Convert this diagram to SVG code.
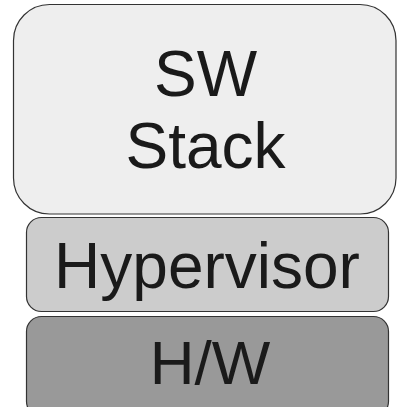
<svg xmlns="http://www.w3.org/2000/svg" width="397" height="407" viewBox="0 0 397 407">
  <style>
    .layer { stroke: #333333; stroke-width: 1.2; }
    .label { font-family: "Liberation Sans", Arial, sans-serif; font-size: 64px; fill: #1a1a1a; text-anchor: middle; }
  </style>
  <rect width="397" height="407" fill="#ffffff"/>
  <g id="sw-stack">
    <rect class="layer" x="13.5" y="4.5" width="382.5" height="209.5" rx="36" ry="36" fill="#eeeeee"/>
    <text class="label" x="205.5" y="96">SW</text>
    <text class="label" x="205.5" y="168">Stack</text>
  </g>
  <g id="hypervisor">
    <rect class="layer" x="26.5" y="217.5" width="362" height="94" rx="15" ry="15" fill="#cccccc"/>
    <text class="label" x="207" y="288">Hypervisor</text>
  </g>
  <g id="hardware">
    <rect class="layer" x="26.5" y="316.5" width="362" height="100" rx="15" ry="15" fill="#999999"/>
    <text class="label" x="210" y="384" style="font-size:62px">H/W</text>
  </g>
  <g id="connectors"/>
</svg>
